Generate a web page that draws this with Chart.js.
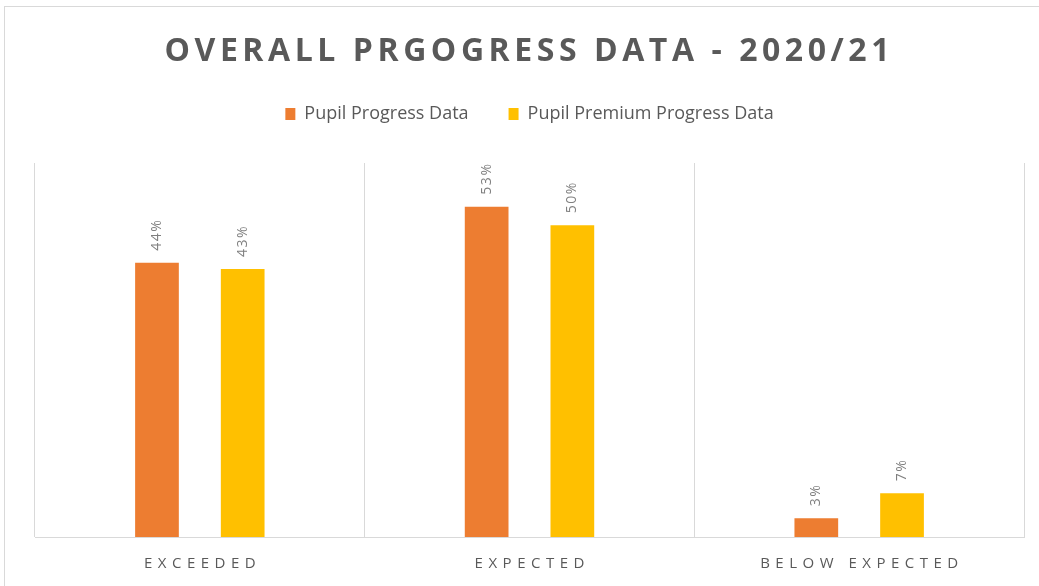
<!DOCTYPE html>
<html>
<head>
<meta charset="utf-8">
<title>Overall Progress Data</title>
<script src="https://cdn.jsdelivr.net/npm/chart.js@4.4.1/dist/chart.umd.min.js"></script>
<style>
  html, body { margin: 0; padding: 0; background: #fff; overflow: hidden; }
  #wrap { position: absolute; left: 0; top: 0; width: 1039px; height: 586px; }
  #frame { position: absolute; left: 4px; top: 6px; width: 1100px; height: 700px;
           border-left: 1px solid #d9d9d9; border-top: 1px solid #d9d9d9; pointer-events: none; }
</style>
</head>
<body>
<div id="wrap">
  <div id="frame"></div>
  <canvas id="myChart" width="1039" height="586"></canvas>
</div>
<script>
const categories = ['EXCEEDED', 'EXPECTED', 'BELOW EXPECTED'];
const pupilProgress = [44, 53, 3];
const pupilPremium = [43, 50, 7];
const seriesNames = ['Pupil Progress Data', 'Pupil Premium Progress Data'];
const chartTitle = 'OVERALL PRGOGRESS DATA - 2020/21';

const textGrey = '#595959';

// title, category labels and rotated value labels, drawn with letter spacing
const extraText = {
  id: 'extraText',
  afterDraw(chart) {
    const ctx = chart.ctx;
    const area = chart.chartArea;
    const xScale = chart.scales.x;

    ctx.save();
    ctx.fillStyle = textGrey;
    ctx.textBaseline = 'middle';
    ctx.textAlign = 'center';

    // title
    ctx.font = 'bold 32px "Open Sans"';
    ctx.letterSpacing = '0px';
    const w = ctx.measureText(chartTitle).width;
    const sp = (725 - w) / (chartTitle.length - 1);
    ctx.letterSpacing = sp + 'px';
    ctx.fillText(chartTitle, 527 + sp / 2, 52);

    // category labels
    ctx.font = '15px "Open Sans"';
    ctx.letterSpacing = '5.5px';
    categories.forEach((c, i) => {
      ctx.fillText(c, xScale.getPixelForValue(i) + 2.75, area.bottom + 27);
    });

    // value labels
    ctx.font = '14px "Open Sans"';
    ctx.letterSpacing = '1.5px';
    ctx.fillStyle = '#7f7f7f';
    ctx.textAlign = 'left';
    chart.data.datasets.forEach((ds, di) => {
      chart.getDatasetMeta(di).data.forEach((el, i) => {
        ctx.save();
        ctx.translate(el.x, el.y - 12);
        ctx.rotate(-Math.PI / 2);
        ctx.fillText(ds.data[i] + '%', 0, 0);
        ctx.restore();
      });
    });
    ctx.restore();
  }
};

new Chart(document.getElementById('myChart'), {
  type: 'bar',
  data: {
    labels: categories,
    datasets: [
      { label: seriesNames[0], data: pupilProgress, backgroundColor: '#ED7D31' },
      { label: seriesNames[1], data: pupilPremium, backgroundColor: '#FFC000' }
    ]
  },
  options: {
    responsive: false,
    animation: false,
    categoryPercentage: 0.52,
    barPercentage: 0.51,
    layout: { padding: { top: 65, left: 35, right: 15, bottom: 49 } },
    plugins: {
      title: { display: false },
      tooltip: { enabled: false },
      legend: {
        position: 'top',
        labels: {
          color: textGrey,
          font: { family: '"Open Sans"', size: 18 },
          boxWidth: 10,
          boxHeight: 12,
          padding: 40
        }
      }
    },
    scales: {
      x: {
        grid: { display: true, offset: true, color: '#d9d9d9', drawTicks: false },
        border: { display: true, color: '#d9d9d9' },
        ticks: { display: false }
      },
      // empty top axis, only keeps the gap between legend and plot
      xGap: {
        type: 'category',
        position: 'top',
        grid: { display: false },
        border: { display: false },
        ticks: { display: false },
        afterFit(scale) { scale.height = 30; }
      },
      y: {
        display: false,
        min: 0,
        max: 60
      }
    }
  },
  plugins: [extraText]
});
</script>
</body>
</html>
